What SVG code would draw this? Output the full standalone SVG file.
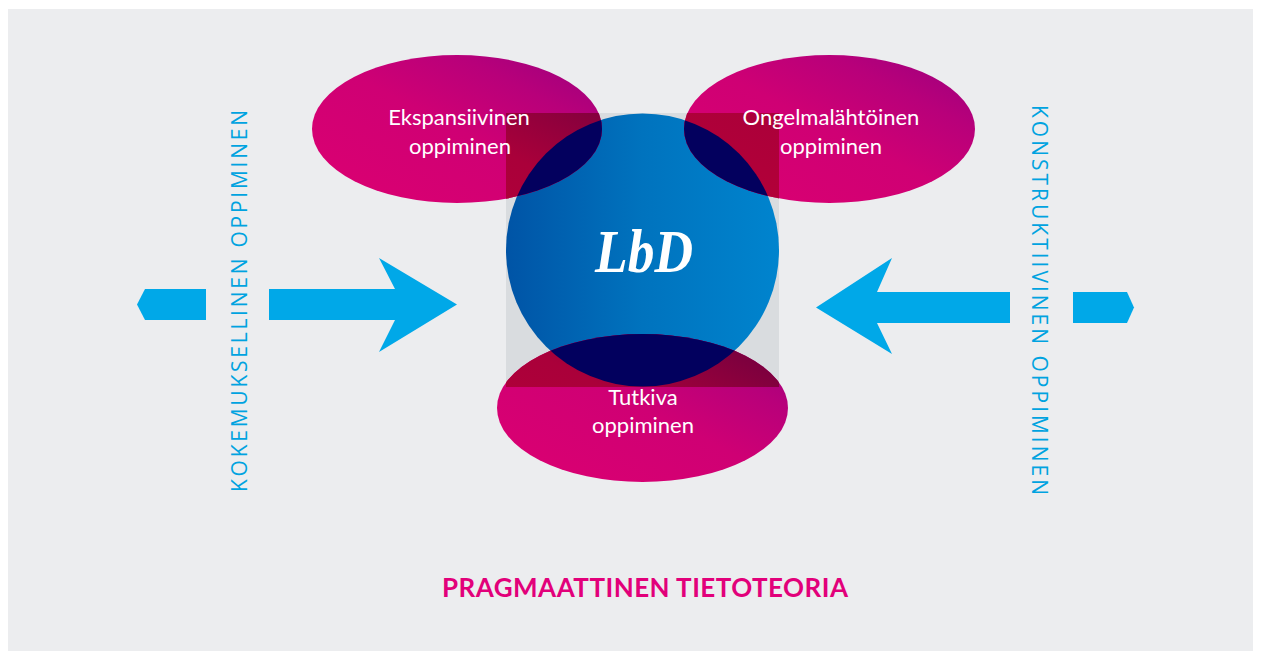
<svg xmlns="http://www.w3.org/2000/svg" width="1261" height="651" viewBox="0 0 1261 651">
<style>
.lbl{font-family:Lato,"Open Sans","Liberation Sans",sans-serif;font-size:22px;fill:#FFFFFF;text-anchor:middle}
.vert{font-family:"Open Sans","Liberation Sans",sans-serif;font-size:21px;fill:#00A3E0;text-anchor:middle}
.arrow{fill:#00A8E8}
</style>
<defs>
<linearGradient id="mag" x1="0" y1="1" x2="1" y2="0">
<stop offset="0" stop-color="#DC0071"/>
<stop offset="0.5" stop-color="#CF0074"/>
<stop offset="0.75" stop-color="#B8007A"/>
<stop offset="1" stop-color="#98007F"/>
</linearGradient>
<linearGradient id="red" x1="0" y1="1" x2="1" y2="0">
<stop offset="0" stop-color="#B60038"/>
<stop offset="0.5" stop-color="#AA003A"/>
<stop offset="0.75" stop-color="#8A003D"/>
<stop offset="1" stop-color="#680040"/>
</linearGradient>
<linearGradient id="blue" x1="0" y1="0" x2="1" y2="0">
<stop offset="0" stop-color="#0054A6"/>
<stop offset="0.5" stop-color="#0073BE"/>
<stop offset="1" stop-color="#0084CE"/>
</linearGradient>
<clipPath id="sq"><rect x="506" y="113" width="273" height="274"/></clipPath>
<clipPath id="circ"><circle cx="642.5" cy="250" r="136.5"/></clipPath>
</defs>
<rect x="0" y="0" width="1261" height="651" fill="#FFFFFF"/>
<rect x="8" y="9" width="1245" height="642" fill="#ECEDEF"/>

<g id="connectors">
<polygon class="arrow" points="145,289 206,289 206,320 145,320 137,304.5"/>
<polygon class="arrow" points="269,289 395,289 379,258 457,304.5 379,352 395,320 269,320"/>
<polygon class="arrow" points="1010,292 877,292 892,258 816,307.5 892,354 877,323 1010,323"/>
<polygon class="arrow" points="1073,292 1127,292 1134,307.5 1127,323 1073,323"/>
</g>

<g id="lbd">
<rect x="506" y="113" width="273" height="274" fill="#D9DCDF"/>
<circle cx="642.5" cy="250" r="136.5" fill="url(#blue)"/>
<text x="644" y="272" font-family="'Liberation Serif',serif" font-style="italic" font-weight="bold" font-size="62" fill="#FFFFFF" text-anchor="middle" textLength="98" lengthAdjust="spacingAndGlyphs">LbD</text>
</g>

<g id="ekspansiivinen">
<ellipse cx="457" cy="129" rx="145" ry="74" fill="url(#mag)"/>
<ellipse cx="457" cy="129" rx="145" ry="74" fill="url(#red)" clip-path="url(#sq)"/>
<ellipse cx="457" cy="129" rx="145" ry="74" fill="#03005E" clip-path="url(#circ)"/>
<text class="lbl" x="459" y="125">Ekspansiivinen</text>
<text class="lbl" x="460" y="154">oppiminen</text>
</g>

<g id="ongelmalahtoinen">
<ellipse cx="829.5" cy="129" rx="145.5" ry="74" fill="url(#mag)"/>
<ellipse cx="829.5" cy="129" rx="145.5" ry="74" fill="url(#red)" clip-path="url(#sq)"/>
<ellipse cx="829.5" cy="129" rx="145.5" ry="74" fill="#03005E" clip-path="url(#circ)"/>
<text class="lbl" x="831" y="125">Ongelmalähtöinen</text>
<text class="lbl" x="831" y="154">oppiminen</text>
</g>

<g id="tutkiva">
<ellipse cx="642.5" cy="408" rx="145.5" ry="74" fill="url(#mag)"/>
<ellipse cx="642.5" cy="408" rx="145.5" ry="74" fill="url(#red)" clip-path="url(#sq)"/>
<ellipse cx="642.5" cy="408" rx="145.5" ry="74" fill="#02005E" clip-path="url(#circ)"/>
<text class="lbl" x="643" y="405">Tutkiva</text>
<text class="lbl" x="643" y="433">oppiminen</text>
</g>

<g id="kokemuksellinen">
<text class="vert" transform="translate(247,301) rotate(-90)" x="0" y="0" textLength="382" lengthAdjust="spacing">KOKEMUKSELLINEN OPPIMINEN</text>
</g>

<g id="konstruktiivinen">
<text class="vert" transform="translate(1032,300) rotate(90)" x="0" y="0" textLength="390" lengthAdjust="spacing">KONSTRUKTIIVINEN OPPIMINEN</text>
</g>

<g id="pragmaattinen">
<text x="645" y="597" font-family="Lato,'Open Sans','Liberation Sans',sans-serif" font-weight="bold" font-size="26" fill="#E2007A" text-anchor="middle" textLength="406" lengthAdjust="spacing">PRAGMAATTINEN TIETOTEORIA</text>
</g>
</svg>
